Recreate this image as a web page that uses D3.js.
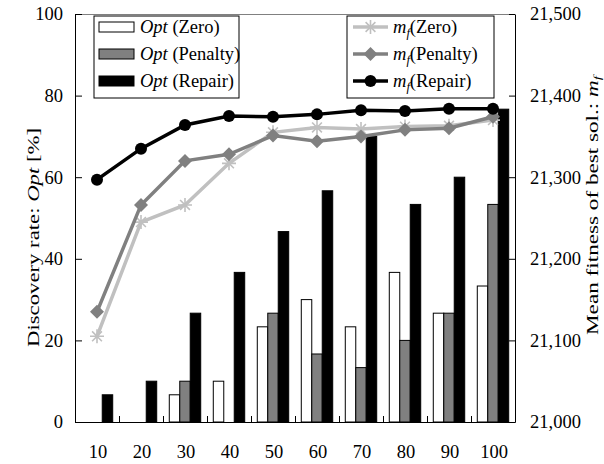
<!DOCTYPE html>
<html>
<head>
<meta charset="utf-8">
<script src="https://cdn.jsdelivr.net/npm/d3@7"></script>
<style>
  body { margin: 0; background: #fff; }
</style>
</head>
<body>
<div id="chart"></div>
<script>
// data
var sizes = [10, 20, 30, 40, 50, 60, 70, 80, 90, 100];
var optZero    = [0, 0, 6.67, 10, 23.33, 30, 23.33, 36.67, 26.67, 33.33];
var optPenalty = [0, 0, 10, 0, 26.67, 16.67, 13.33, 20, 26.67, 53.33];
var optRepair  = [6.67, 10, 26.67, 36.67, 46.67, 56.67, 70, 53.33, 60, 76.67];
var mfZero    = [21105, 21245, 21266, 21317, 21355, 21361, 21359, 21362, 21363, 21370];
var mfPenalty = [21135, 21266, 21320, 21328, 21351, 21344, 21350, 21358, 21360, 21374];
var mfRepair  = [21297, 21335, 21364, 21375, 21374, 21377, 21382, 21381, 21384, 21384];
var leftTicks = [0, 20, 40, 60, 80, 100];
var rightTicks = [21000, 21100, 21200, 21300, 21400, 21500];

var FONT = "'Liberation Serif', 'Times New Roman', Times, serif";
var svgWidth = 604, svgHeight = 464;
var margin = { top: 14, right: 89, bottom: 42, left: 75 };
var width = svgWidth - margin.left - margin.right;
var height = svgHeight - margin.top - margin.bottom;

var svg = d3.select("#chart").append("svg")
  .attr("width", svgWidth)
  .attr("height", svgHeight)
  .style("font-family", FONT);

var chartGroup = svg.append("g")
  .attr("transform", `translate(${margin.left}, ${margin.top})`);

var barSeries = [
  { key: "Zero", values: optZero, fill: "#ffffff" },
  { key: "Penalty", values: optPenalty, fill: "#808080" },
  { key: "Repair", values: optRepair, fill: "#000000" }
];
var lineSeries = [
  { key: "Zero", values: mfZero, color: "#c0c0c0", marker: "star" },
  { key: "Penalty", values: mfPenalty, color: "#808080", marker: "diamond" },
  { key: "Repair", values: mfRepair, color: "#000000", marker: "circle" }
];

// scales
var x0 = d3.scaleBand().domain(sizes).range([0, width]).padding(0);
var x1 = d3.scaleBand().domain(barSeries.map(d => d.key))
  .range([0, x0.bandwidth()]).paddingInner(0).paddingOuter(0.6);
var yLeft = d3.scaleLinear().domain([0, 100]).range([height, 0]);
var yRight = d3.scaleLinear().domain([21000, 21500]).range([height, 0]);

// top frame
chartGroup.append("line")
  .attr("x1", 0).attr("x2", width).attr("y1", 0.5).attr("y2", 0.5)
  .attr("stroke", "#808080").attr("stroke-width", 1);

// bars
barSeries.forEach(function(s) {
  chartGroup.append("g").selectAll("rect")
    .data(s.values)
    .enter()
    .append("rect")
    .attr("x", (d, i) => x0(sizes[i]) + x1(s.key))
    .attr("y", d => yLeft(d))
    .attr("width", x1.bandwidth())
    .attr("height", d => height - yLeft(d))
    .attr("fill", s.fill)
    .attr("stroke", "#000")
    .attr("stroke-width", d => d > 0 ? 1 : 0);
});

// axes
var leftAxis = d3.axisLeft(yLeft).tickValues(leftTicks)
  .tickSizeInner(-7).tickSizeOuter(0).tickPadding(12);
var rightAxis = d3.axisRight(yRight).tickValues(rightTicks)
  .tickSizeInner(-6).tickSizeOuter(0).tickPadding(15).tickFormat(d3.format(","));

var gl = chartGroup.append("g").call(leftAxis);
var gr = chartGroup.append("g").attr("transform", `translate(${width}, 0)`).call(rightAxis);
[gl, gr].forEach(function(g) {
  g.attr("font-family", null).attr("font-size", null);
  g.selectAll("text").attr("font-size", "18.5px").attr("fill", "#000");
  g.selectAll("path, line").attr("stroke", "#000");
});

// bottom axis: boundary ticks + centered labels
var boundary = d3.scaleLinear().domain([0, sizes.length]).range([0, width]);
var gb = chartGroup.append("g").attr("transform", `translate(0, ${height})`)
  .call(d3.axisBottom(boundary).tickValues(d3.range(1, sizes.length))
    .tickSizeInner(-6).tickSizeOuter(0).tickFormat(""));
gb.selectAll("path, line").attr("stroke", "#000");

chartGroup.append("g").selectAll("text")
  .data(sizes)
  .enter()
  .append("text")
  .attr("x", d => x0(d) + x0.bandwidth() / 2 + 1)
  .attr("y", height + 36)
  .attr("text-anchor", "middle")
  .attr("font-size", "18.5px")
  .text(d => d);

// lines
var xc = (d, i) => x0(sizes[i]) + x0.bandwidth() / 2;
function drawMarker(g, type, color, cx, cy) {
  if (type === "circle") {
    g.append("circle").attr("cx", cx).attr("cy", cy).attr("r", 6).attr("fill", color);
  } else if (type === "diamond") {
    g.append("path")
      .attr("d", `M${cx},${cy - 7}L${cx + 7},${cy}L${cx},${cy + 7}L${cx - 7},${cy}Z`)
      .attr("fill", color);
  } else {
    var r = 7;
    g.append("path")
      .attr("d", `M${cx - r},${cy}L${cx + r},${cy}M${cx - r * 0.7},${cy - r * 0.7}L${cx + r * 0.7},${cy + r * 0.7}M${cx - r * 0.7},${cy + r * 0.7}L${cx + r * 0.7},${cy - r * 0.7}M${cx},${cy - r}L${cx},${cy + r}`)
      .attr("stroke", color).attr("stroke-width", 1.6).attr("fill", "none");
  }
}

lineSeries.forEach(function(s) {
  var line = d3.line().x(xc).y(d => yRight(d));
  chartGroup.append("path")
    .datum(s.values)
    .attr("d", line)
    .attr("fill", "none")
    .attr("stroke", s.color)
    .attr("stroke-width", 3.5);
  var mg = chartGroup.append("g");
  s.values.forEach(function(d, i) {
    drawMarker(mg, s.marker, s.color, xc(d, i), yRight(d));
  });
});

// axis titles
svg.append("text")
  .attr("transform", "translate(39, 237.5) rotate(-90)")
  .attr("text-anchor", "middle")
  .attr("font-size", "17.5px")
  .attr("textLength", 219)
  .attr("lengthAdjust", "spacingAndGlyphs")
  .html("Discovery rate: <tspan font-style='italic'>Opt</tspan> [%]");

svg.append("text")
  .attr("transform", "translate(598, 205.5) rotate(-90)")
  .attr("text-anchor", "middle")
  .attr("font-size", "17px")
  .attr("textLength", 259)
  .attr("lengthAdjust", "spacingAndGlyphs")
  .html("Mean fitness of best sol.: <tspan font-style='italic'>m</tspan><tspan font-style='italic' font-size='11px' dy='2.5'>f</tspan>");

// legends
var legL = svg.append("g").attr("transform", "translate(94, 16)");
legL.append("rect").attr("width", 145).attr("height", 82)
  .attr("fill", "#fff").attr("stroke", "#000");
barSeries.forEach(function(s, i) {
  var yy = 11 + i * 27;
  legL.append("rect").attr("x", 5).attr("y", yy - 5).attr("width", 35).attr("height", 10)
    .attr("fill", s.fill).attr("stroke", "#000");
  legL.append("text").attr("x", 46).attr("y", yy + 6).attr("font-size", "18.5px")
    .html(`<tspan font-style='italic'>Opt</tspan> (${s.key})`);
});

var legR = svg.append("g").attr("transform", "translate(347, 16)");
legR.append("rect").attr("width", 147).attr("height", 82)
  .attr("fill", "#fff").attr("stroke", "#000");
lineSeries.forEach(function(s, i) {
  var yy = 11 + i * 27;
  legR.append("line").attr("x1", 6).attr("x2", 41).attr("y1", yy).attr("y2", yy)
    .attr("stroke", s.color).attr("stroke-width", 3.5);
  drawMarker(legR, s.marker, s.color, 23.5, yy);
  legR.append("text").attr("x", 46).attr("y", yy + 6).attr("font-size", "18.5px")
    .html(`<tspan font-style='italic'>m</tspan><tspan font-style='italic' font-size='12.5px' dy='4'>f</tspan><tspan dy='-4'>(${s.key})</tspan>`);
});

svg.selectAll("text").style("font-family", FONT);
</script>
</body>
</html>
